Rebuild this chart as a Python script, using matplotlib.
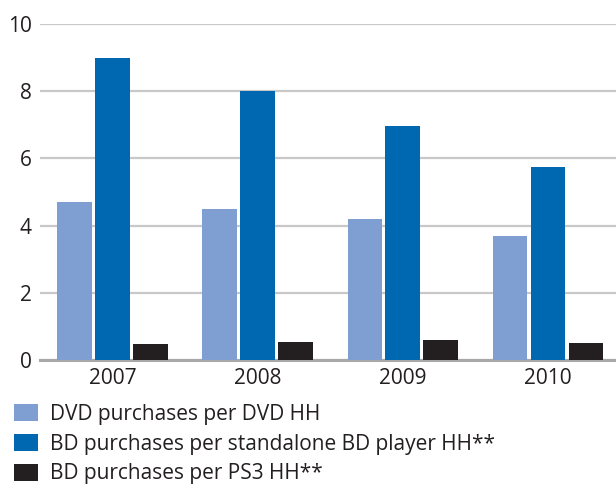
import matplotlib.pyplot as plt
import numpy as np

plt.rcParams['font.family'] = ['Open Sans', 'DejaVu Sans']

years = ['2007', '2008', '2009', '2010']
dvd_per_dvd_hh = [4.7, 4.5, 4.2, 3.7]
bd_per_standalone_hh = [9.0, 8.0, 6.95, 5.75]
bd_per_ps3_hh = [0.48, 0.54, 0.6, 0.51]
labels = ['DVD purchases per DVD HH',
          'BD purchases per standalone BD player HH**',
          'BD purchases per PS3 HH**']
colors = ['#7f9fd3', '#0067b1', '#231f20']

fig = plt.figure(figsize=(6.16, 4.84), dpi=100)
ax = fig.add_axes([40/616, 1 - 360/484, 1 - 40/616, 336/484])

x = np.arange(len(years))
w = 0.241
off = 0.262
series = [dvd_per_dvd_hh, bd_per_standalone_hh, bd_per_ps3_hh]
bars = []
for i, vals in enumerate(series):
    b = ax.bar(x + (i - 1) * off, vals, w, color=colors[i], label=labels[i], zorder=3)
    bars.append(b)

ax.set_ylim(0, 10)
ax.set_xlim(-0.503, 3.469)
ax.set_yticks([0, 2, 4, 6, 8, 10])
ax.set_xticks(x)
ax.set_xticklabels(years)
ax.tick_params(axis='both', length=0, labelsize=15, colors='#231f20')
ax.tick_params(axis='y', pad=6)
ax.tick_params(axis='x', pad=6)
ax.yaxis.grid(True, color='#c8c8c9', linewidth=1.6, zorder=0)
for s in ['top', 'right', 'left']:
    ax.spines[s].set_visible(False)
ax.spines['bottom'].set_color('#a7a8aa')
ax.spines['bottom'].set_linewidth(2.2)

fig.legend(handles=bars, labels=labels, loc='upper left',
           bbox_to_anchor=(14/616, 1 - 404/484), frameon=False,
           fontsize=15, handlelength=1.15, handleheight=0.85,
           handletextpad=0.6, labelspacing=0.42, borderaxespad=0,
           borderpad=0, labelcolor='#231f20')

plt.savefig('out.png', dpi=100)
